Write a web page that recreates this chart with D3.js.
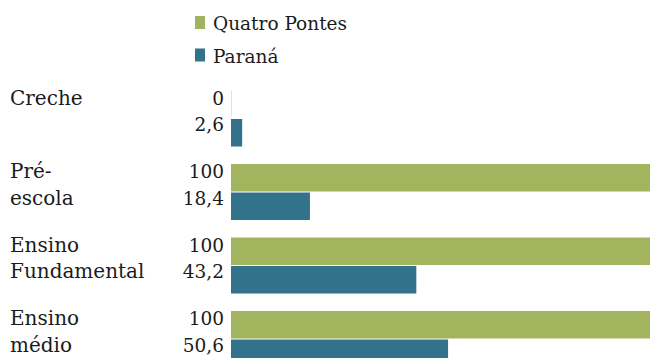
<!DOCTYPE html>
<html>
<head>
<meta charset="utf-8">
<script src="https://cdn.jsdelivr.net/npm/d3@7/dist/d3.min.js"></script>
<style>
  html, body { margin: 0; padding: 0; background: #ffffff; }
  svg { display: block; }
  text { font-family: "DejaVu Serif", "Liberation Serif", serif; fill: #1b1b1b; }
</style>
</head>
<body>
<svg id="chart" width="650" height="358"></svg>
<script>
// Share of attendance by school level
const categories = [["Creche"], ["Pré-", "escola"], ["Ensino", "Fundamental"], ["Ensino", "médio"]];
const seriesNames = ["Quatro Pontes", "Paraná"];
const quatroPontes = [0, 100, 100, 100];
const parana = [2.6, 18.4, 43.2, 50.6];
const valueLabels = [["0", "2,6"], ["100", "18,4"], ["100", "43,2"], ["100", "50,6"]];
const colors = ["#a2b45e", "#32728a"];

const svg = d3.select("#chart");
const catKeys = categories.map(c => c.join(" "));
const series = [quatroPontes, parana];

const x = d3.scaleLinear().domain([0, 100]).range([231, 660]);
const y0 = d3.scaleBand().domain(catKeys).range([81.75, 375.75])
  .paddingInner(0.238).paddingOuter(0.119);
const y1 = d3.scaleBand().domain(seriesNames).range([0, y0.bandwidth()]).paddingInner(0.036);
const color = d3.scaleOrdinal().domain(seriesNames).range(colors);

// Legend
const legend = svg.append("g").selectAll("g").data(seriesNames).join("g")
  .attr("transform", (d, i) => `translate(195,${16 + i * 32.5})`);
legend.append("rect").attr("width", 10).attr("height", 13).attr("fill", d => color(d));
legend.append("text").attr("x", 18).attr("y", 14).style("font-size", "18.5px").text(d => d);

// Groups
const groups = svg.append("g").selectAll("g").data(catKeys).join("g")
  .attr("transform", d => `translate(0,${y0(d)})`);

groups.each(function (key, ci) {
  const g = d3.select(this);
  seriesNames.forEach((s, si) => {
    const v = series[si][ci];
    const top = y1(s);
    const h = y1.bandwidth();
    g.append("rect")
      .attr("x", x(0)).attr("y", top)
      .attr("width", x(v) - x(0)).attr("height", h)
      .attr("fill", color(s));
    if (v === 0) {
      g.append("line")
        .attr("x1", x(0) + 0.5).attr("x2", x(0) + 0.5)
        .attr("y1", top).attr("y2", top + h - 2)
        .attr("stroke", "#e6e2d3").attr("stroke-width", 1);
    }
  });
  const base = y1(seriesNames[0]) + y1.bandwidth() / 2 + 0.5;
  // value labels, right-aligned next to the bars
  valueLabels[ci].forEach((t, li) => {
    g.append("text").attr("x", 224).attr("y", base + li * 26.5)
      .attr("text-anchor", "end").style("font-size", "18.5px").text(t);
  });
  // category labels
  categories[ci].forEach((t, li) => {
    g.append("text").attr("x", 10).attr("y", base + li * 26.5)
      .style("font-size", "20px").text(t);
  });
});
</script>
</body>
</html>
